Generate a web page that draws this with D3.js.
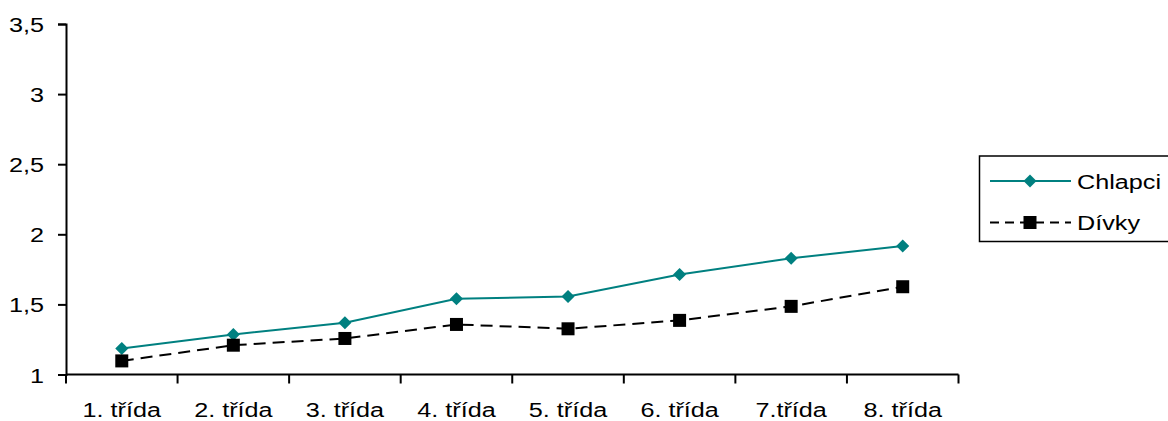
<!DOCTYPE html>
<html><head><meta charset="utf-8">
<script src="https://cdn.jsdelivr.net/npm/d3@7"></script>
<style>body{margin:0;background:#fff}svg{display:block}text{font-family:"Liberation Sans",Arial,sans-serif}</style>
</head><body>
<svg id="c" width="1168" height="421"></svg>
<script>
const categories = ["1. třída","2. třída","3. třída","4. třída","5. třída","6. třída","7.třída","8. třída"];
const chlapci = [1.186,1.286,1.369,1.54,1.557,1.714,1.829,1.916];
const divky = [1.097,1.209,1.257,1.357,1.326,1.386,1.486,1.626];
const yTicks = [1,1.5,2,2.5,3,3.5];
const seriesNames = ["Chlapci","Dívky"];

(function(){
const svg = d3.select("#c");
const mL = 66, mR = 958.5, mT = 24, mB = 374.5;
const FS = 21, SX = 1.2;
const x = d3.scaleBand().domain(categories).range([mL,mR]);
const y = d3.scaleLinear().domain([1,3.5]).range([mB,mT]);
const fmt = d => String(d).replace(".", ",");

const yAxis = svg.append("g").attr("transform",`translate(${mL},0)`)
  .call(d3.axisLeft(y).tickValues(yTicks).tickFormat(fmt).tickSize(8));
const xAxis = svg.append("g").attr("transform",`translate(0,${mB})`)
  .call(d3.axisBottom(x).tickSize(0));
[yAxis,xAxis].forEach(a=>{
  a.select(".domain").attr("stroke","#000").attr("stroke-width",2);
  a.selectAll(".tick line").attr("stroke","#000").attr("stroke-width",2);
  a.selectAll("text").attr("font-size",FS).attr("fill","#000").attr("font-family",'"Liberation Sans",Arial,sans-serif');
});
yAxis.selectAll(".tick text").attr("x",0).attr("dy",null).attr("y",7.5)
  .attr("transform",`translate(-22,0) scale(${SX},1)`);
xAxis.selectAll(".tick text").attr("dy",null).attr("y",0)
  .attr("transform",`translate(0,42.5) scale(${SX},1)`);
xAxis.select(".domain").attr("d",`M${mL},0H${mR}`);
const bounds = categories.map(c=>x(c)).concat([mR]);
xAxis.selectAll(".bt").data(bounds).enter().append("line")
  .attr("x1",d=>d).attr("x2",d=>d).attr("y1",0).attr("y2",9)
  .attr("stroke","#000").attr("stroke-width",2);

const cx = c => x(c)+x.bandwidth()/2;
const line = d3.line().x((d,i)=>cx(categories[i])).y(d=>y(d));

svg.append("path").datum(chlapci).attr("d",line).attr("fill","none")
  .attr("stroke","#008080").attr("stroke-width",2);
svg.append("path").datum(divky).attr("d",line).attr("fill","none")
  .attr("stroke","#000").attr("stroke-width",2).attr("stroke-dasharray","12,7");

const diamond = d3.symbol().type(d3.symbolSquare).size(85);
svg.selectAll(".dm").data(chlapci).enter().append("path")
  .attr("d",diamond).attr("fill","#008080")
  .attr("transform",(d,i)=>`translate(${cx(categories[i])},${y(d)}) rotate(45)`);
svg.selectAll(".sq").data(divky).enter().append("rect")
  .attr("x",(d,i)=>cx(categories[i])-6.5).attr("y",d=>y(d)-6.5)
  .attr("width",13).attr("height",13).attr("fill","#000");

const lg = svg.append("g");
lg.append("rect").attr("x",979.5).attr("y",156).attr("width",200).attr("height",85.5)
  .attr("fill","#fff").attr("stroke","#000").attr("stroke-width",1.5);
const rows = [181,222.5];
lg.append("line").attr("x1",990).attr("x2",1071).attr("y1",rows[0]).attr("y2",rows[0])
  .attr("stroke","#008080").attr("stroke-width",2);
lg.append("path").attr("d",diamond).attr("fill","#008080").attr("transform",`translate(1030,${rows[0]}) rotate(45)`);
lg.append("line").attr("x1",990).attr("x2",1071).attr("y1",rows[1]).attr("y2",rows[1])
  .attr("stroke","#000").attr("stroke-width",2).attr("stroke-dasharray","9,6");
lg.append("rect").attr("x",1023.5).attr("y",rows[1]-6.5).attr("width",13).attr("height",13).attr("fill","#000");
lg.selectAll(".lt").data(seriesNames).enter().append("text")
  .attr("x",0).attr("y",0)
  .attr("transform",(d,i)=>`translate(1077,${rows[i]+7.5}) scale(${SX},1)`)
  .attr("font-size",FS).attr("fill","#000").text(d=>d);
})();
</script>
</body></html>
